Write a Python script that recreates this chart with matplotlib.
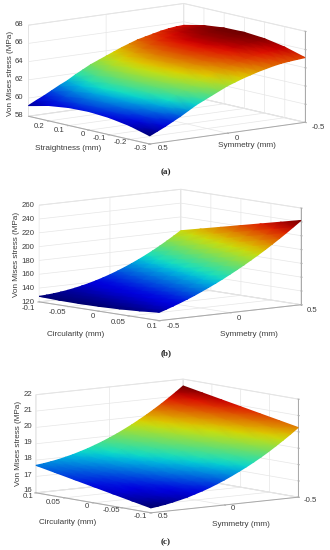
import matplotlib
matplotlib.use('Agg')
import matplotlib.pyplot as plt
from matplotlib.colors import ListedColormap
from mpl_toolkits.mplot3d import proj3d
import numpy as np

plt.rcParams['font.family'] = ['Liberation Sans', 'DejaVu Sans']

W, H = 330, 550

# (a) rows run along symmetry, columns along straightness
sym_a = np.linspace(0.5, -0.5, 21)
straight_a = [-0.3, -0.2, -0.1, 0, 0.1, 0.2, 0.3]
stress_a = [
    [58.90, 59.51, 59.88, 60.04, 59.97, 59.69, 59.17],
    [59.30, 59.91, 60.29, 60.45, 60.39, 60.11, 59.60],
    [59.70, 60.31, 60.69, 60.85, 60.79, 60.51, 60.00],
    [60.15, 60.76, 61.14, 61.30, 61.24, 60.96, 60.45],
    [60.60, 61.21, 61.59, 61.75, 61.69, 61.41, 60.90],
    [61.10, 61.69, 62.06, 62.20, 62.12, 61.83, 61.30],
    [61.60, 62.19, 62.56, 62.70, 62.62, 62.33, 61.80],
    [62.00, 62.60, 62.97, 63.13, 63.06, 62.77, 62.25],
    [62.40, 63.01, 63.39, 63.55, 63.49, 63.21, 62.70],
    [62.80, 63.40, 63.77, 63.93, 63.86, 63.57, 63.05],
    [63.20, 63.79, 64.16, 64.30, 64.22, 63.93, 63.40],
    [63.50, 64.10, 64.47, 64.63, 64.56, 64.27, 63.75],
    [63.80, 64.41, 64.79, 64.95, 64.89, 64.61, 64.10],
    [64.05, 64.67, 65.06, 65.23, 65.17, 64.90, 64.40],
    [64.30, 64.93, 65.32, 65.50, 65.46, 65.19, 64.70],
    [64.50, 65.13, 65.52, 65.70, 65.66, 65.39, 64.90],
    [64.70, 65.33, 65.72, 65.90, 65.86, 65.59, 65.10],
    [64.85, 65.49, 65.89, 66.08, 66.04, 65.79, 65.30],
    [64.95, 65.59, 66.01, 66.20, 66.17, 65.93, 65.45],
    [65.03, 65.68, 66.09, 66.29, 66.27, 66.02, 65.55],
    [65.10, 65.74, 66.16, 66.35, 66.32, 66.08, 65.60],
]

# (b) rows run along symmetry, columns along circularity
sym_b = np.linspace(-0.5, 0.5, 21)
circ_b = [-0.1, -0.0667, -0.0333, 0, 0.0333, 0.0667, 0.1]
stress_b = [
    [128.00, 127.00, 126.67, 127.00, 128.00, 129.67, 132.00],
    [128.50, 128.07, 128.27, 129.10, 130.57, 132.67, 135.40],
    [129.35, 129.46, 130.17, 131.48, 133.38, 135.89, 139.00],
    [130.50, 131.13, 132.33, 134.10, 136.43, 139.33, 142.80],
    [132.00, 133.14, 134.80, 137.00, 139.74, 143.00, 146.80],
    [133.80, 135.42, 137.53, 140.15, 143.27, 146.88, 151.00],
    [136.00, 138.10, 140.66, 143.70, 147.20, 151.16, 155.60],
    [138.40, 140.97, 143.97, 147.40, 151.27, 155.57, 160.30],
    [141.20, 144.20, 147.60, 151.40, 155.60, 160.20, 165.20],
    [144.30, 147.73, 151.53, 155.70, 160.23, 165.13, 170.40],
    [147.75, 151.60, 155.77, 160.28, 165.12, 170.30, 175.80],
    [151.50, 155.73, 160.27, 165.10, 170.23, 175.67, 181.40],
    [155.60, 160.20, 165.06, 170.20, 175.60, 181.26, 187.20],
    [160.00, 164.97, 170.17, 175.60, 181.27, 187.17, 193.30],
    [164.75, 170.04, 175.53, 181.23, 187.12, 193.21, 199.50],
    [169.80, 175.41, 181.20, 187.15, 193.26, 199.55, 206.00],
    [175.20, 181.14, 187.20, 193.40, 199.74, 206.20, 212.80],
    [180.90, 187.13, 193.47, 199.90, 206.43, 213.07, 219.80],
    [187.00, 193.50, 200.06, 206.70, 213.40, 220.16, 227.00],
    [193.30, 200.07, 206.87, 213.70, 220.57, 227.47, 234.40],
    [200.00, 207.00, 214.00, 221.00, 228.00, 235.00, 242.00],
]

# (c) rows run along symmetry, columns along circularity
sym_c = np.linspace(0.5, -0.5, 21)
circ_c = [-0.1, -0.0667, -0.0333, 0, 0.0333, 0.0667, 0.1]
stress_c = [
    [16.30, 16.53, 16.76, 16.99, 17.22, 17.45, 17.68],
    [16.36, 16.59, 16.82, 17.05, 17.27, 17.50, 17.73],
    [16.43, 16.66, 16.89, 17.12, 17.34, 17.57, 17.80],
    [16.52, 16.75, 16.97, 17.20, 17.43, 17.65, 17.88],
    [16.62, 16.85, 17.07, 17.30, 17.53, 17.75, 17.98],
    [16.73, 16.96, 17.18, 17.41, 17.64, 17.86, 18.09],
    [16.87, 17.10, 17.32, 17.55, 17.77, 18.00, 18.22],
    [17.01, 17.24, 17.46, 17.69, 17.91, 18.14, 18.36],
    [17.17, 17.40, 17.62, 17.85, 18.07, 18.30, 18.52],
    [17.35, 17.57, 17.80, 18.02, 18.24, 18.47, 18.69],
    [17.54, 17.76, 17.99, 18.21, 18.43, 18.66, 18.88],
    [17.75, 17.97, 18.19, 18.42, 18.64, 18.86, 19.08],
    [17.97, 18.19, 18.41, 18.64, 18.86, 19.08, 19.30],
    [18.20, 18.42, 18.64, 18.87, 19.09, 19.31, 19.53],
    [18.45, 18.67, 18.89, 19.12, 19.34, 19.56, 19.78],
    [18.71, 18.93, 19.15, 19.38, 19.60, 19.82, 20.04],
    [18.99, 19.21, 19.43, 19.66, 19.88, 20.10, 20.32],
    [19.29, 19.51, 19.73, 19.95, 20.17, 20.39, 20.61],
    [19.60, 19.82, 20.04, 20.26, 20.48, 20.70, 20.92],
    [19.92, 20.14, 20.36, 20.58, 20.80, 21.02, 21.24],
    [20.26, 20.48, 20.70, 20.92, 21.14, 21.36, 21.58],
]

# tick values
straight_ticks = [-0.3, -0.2, -0.1, 0, 0.1, 0.2]
circ_ticks = [-0.1, -0.05, 0, 0.05, 0.1]
sym_ticks = [-0.5, 0, 0.5]
z_ticks_a = [58, 60, 62, 64, 66, 68]
z_ticks_b = [120, 140, 160, 180, 200, 220, 240, 260]
z_ticks_c = [16, 17, 18, 19, 20, 21, 22]

# jet with the black mesh of the original averaged in
jet_dark = ListedColormap(plt.get_cmap('jet')(np.linspace(0, 1, 256))[:, :3] * 0.87)


def panel(cx, cy, x, y, z, xlim, zlim, xticks, zticks, elev, azim, zasp, zoom):
    # square axes centred on the box centre, given in pixels
    S = 300
    rect = [(cx - 4 - S / 2) / W, 1 - (cy + 4 + S / 2) / H, S / W, S / H]
    ax = fig.add_axes(rect, projection='3d', proj_type='ortho')
    ax.patch.set_alpha(0)
    ax.set_xlim(*xlim, view_margin=0)
    ax.set_ylim(-0.5, 0.5, view_margin=0)
    ax.set_zlim(*zlim, view_margin=0)
    ax.set_xticks(xticks)
    ax.set_yticks(sym_ticks)
    ax.set_zticks(zticks)
    # mplot3d can't place these labels like the original, see tick_text below
    ax.set_xticklabels([])
    ax.set_yticklabels([])
    ax.set_zticklabels([])
    ax.view_init(elev=elev, azim=azim)
    ax.set_box_aspect((1, 1, zasp), zoom=zoom)
    for a in (ax.xaxis, ax.yaxis, ax.zaxis):
        a.pane.set_facecolor((1, 1, 1, 0))
        a.pane.set_edgecolor('#c4c4c4')
        a.pane.set_linewidth(0.7)
        a.line.set_color('#a8a8a8')
        a.line.set_linewidth(0.7)
        a._axinfo['grid'].update(color='#e6e6e6', linewidth=0.5)
        a._axinfo['tick'].update(inward_factor=0.1, outward_factor=0.0)
    ax.tick_params(color='#b0b0b0', width=0.5)

    # Axes3D has no gouraud shading, so project the read values and let a
    # 2D axes on top colour the quads
    X, Y = np.meshgrid(x, y)
    Z = np.array(z)
    xp, yp, _ = proj3d.proj_transform(X.ravel(), Y.ravel(), Z.ravel(), ax.get_proj())
    top = fig.add_axes(rect)
    top.set_xlim(*ax.viewLim.intervalx)
    top.set_ylim(*ax.viewLim.intervaly)
    top.axis('off')
    top.pcolormesh(np.reshape(xp, X.shape), np.reshape(yp, X.shape), Z, shading='gouraud',
                   cmap=jet_dark, vmin=Z.min(), vmax=Z.max())
    return ax


def tick_text(values, xs, ys):
    # xs, ys in pixels
    for v, px, py in zip(values, xs, ys):
        fig.text(px / W, 1 - py / H, f'{v:g}', ha='center', va='center', fontsize=5.6, color='#3c3c3c')


fig = plt.figure(figsize=(W / 100, H / 100), dpi=100)

ax_a = panel(166.7, 73.8, straight_a, sym_a, stress_a, (-0.3, 0.3), (58, 68),
             straight_ticks, z_ticks_a, 10.3, 142, 0.47, 0.95)
ax_b = panel(170, 255, circ_b, sym_b, stress_b, (-0.1, 0.1), (120, 260),
             circ_ticks, z_ticks_b, 7.6, -40.3, 0.525, 0.907)
ax_c = panel(167, 446, circ_c, sym_c, stress_c, (-0.1, 0.1), (16, 22),
             circ_ticks, z_ticks_c, 7.8, 142, 0.53, 0.913)

tick_text(straight_ticks, [140, 120, 99, 83, 59, 39], [148, 143, 139, 135, 131, 126])
tick_text(sym_ticks, [318, 237, 163], [128, 138, 148])
tick_text(z_ticks_a, [19] * 6, [115.7, 97.7, 79.3, 61.3, 43, 24.3])

tick_text(circ_ticks, [28, 57, 93, 118, 152], [308, 313, 317, 322, 326])
tick_text(sym_ticks, [173, 239, 312], [327, 318, 310])
tick_text(z_ticks_b, [28] * 8, [302.3, 288.7, 275, 261, 247.3, 233.3, 219.3, 205])

tick_text(circ_ticks, [140, 111, 87, 53, 28], [516, 511, 506, 502, 497])
tick_text(sym_ticks, [310, 233, 163], [501, 508, 516])
tick_text(z_ticks_c, [28] * 7, [491, 475.3, 459, 443, 426.7, 410.3, 394])

labels = [
    (68, 148, 'Straightness (mm)'), (247, 146, 'Symmetry (mm)'),
    (76, 334, 'Circularity (mm)'), (249, 335, 'Symmetry (mm)'),
    (68, 523, 'Circularity (mm)'), (241, 525, 'Symmetry (mm)'),
]
for px, py, s in labels:
    fig.text(px / W, 1 - py / H, s, ha='center', va='center', fontsize=5.85, color='#3c3c3c')
for px, py in [(11, 73), (17, 254), (19, 443)]:
    fig.text(px / W, 1 - py / H, 'Von Mises stress (MPa)', rotation=90, ha='center', va='center',
             fontsize=5.85, color='#3c3c3c')
for py, s in [(172, '(a)'), (353, '(b)'), (542, '(c)')]:
    fig.text(166 / W, 1 - py / H, s, ha='center', va='center', fontsize=6.5, fontweight='bold',
             family='Liberation Serif', color='#222222')

fig.savefig('out.png', dpi=100)
